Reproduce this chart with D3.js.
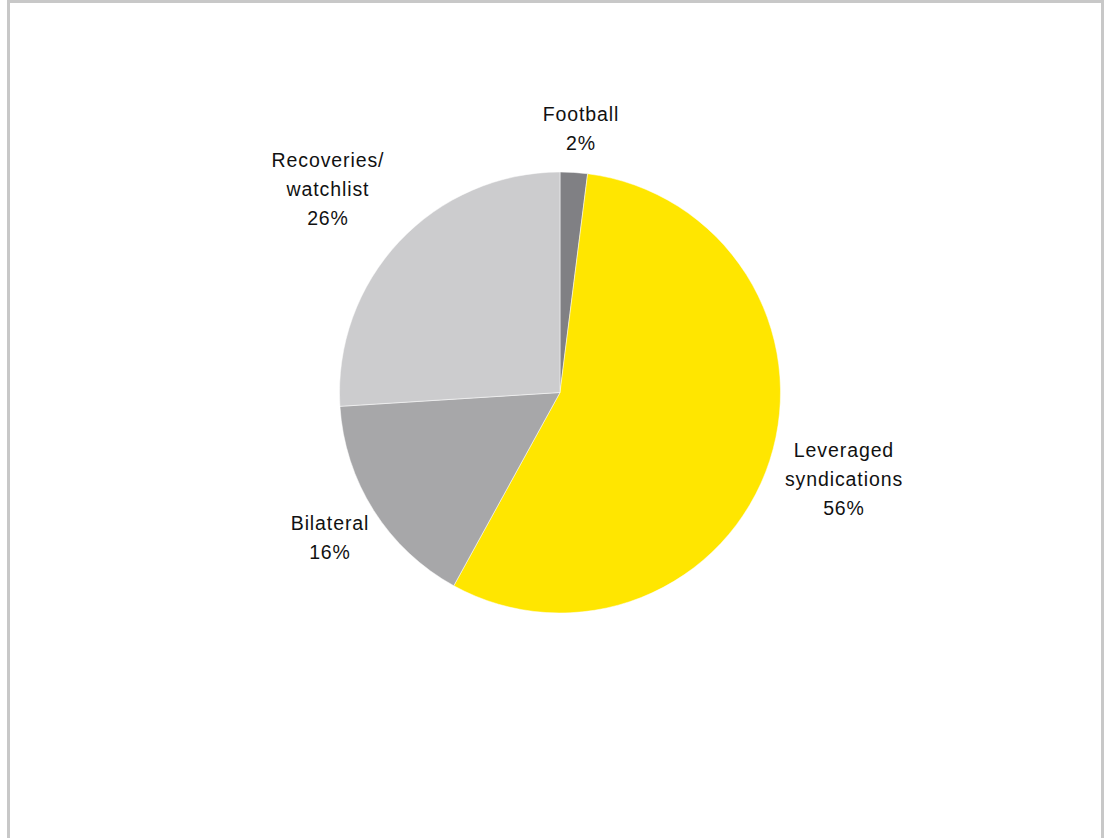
<!DOCTYPE html>
<html>
<head>
<meta charset="utf-8">
<script src="https://cdn.jsdelivr.net/npm/d3@7"></script>
<style>
html,body{margin:0;padding:0;background:#fff;}
svg{display:block;}
text{font-family:"Liberation Sans",Arial,sans-serif;font-size:19.5px;fill:#111;letter-spacing:0.9px;}
</style>
</head>
<body>
<svg id="chart" width="1107" height="838"></svg>
<script>
const categories = ["Football", "Leveraged syndications", "Bilateral", "Recoveries/watchlist"];
const values = [2, 56, 16, 26];
const labelLines = [["Football", "2%"], ["Leveraged", "syndications", "56%"], ["Bilateral", "16%"], ["Recoveries/", "watchlist", "26%"]];
const colors = ["#808084", "#FFE600", "#A7A7A9", "#CCCCCE"];
const labelAnchors = [[581, 114], [844, 450], [330, 523], [328, 160]];

const svg = d3.select("#chart");
svg.append("rect").attr("x", 8.5).attr("y", 1.5).attr("width", 1094).attr("height", 900)
  .attr("fill", "none").attr("stroke", "#c8c8c8").attr("stroke-width", 3);

const cx = 560, cy = 392.5, r = 220.5;
const pie = d3.pie().sort(null).value(d => d.v);
const arcs = pie(categories.map((c, i) => ({c, v: values[i], i})));
const arc = d3.arc().innerRadius(0).outerRadius(r);

const g = svg.append("g").attr("transform", `translate(${cx},${cy})`);
g.selectAll("path").data(arcs).join("path")
  .attr("d", arc)
  .attr("fill", d => colors[d.data.i])
  .attr("stroke", "#fff").attr("stroke-width", 0.5);

const lg = svg.append("g");
arcs.forEach(d => {
  const i = d.data.i;
  const [lx, ly] = labelAnchors[i];
  const t = lg.append("text").attr("text-anchor", "middle").attr("x", lx).attr("y", ly);
  labelLines[i].forEach((line, k) => {
    t.append("tspan").attr("x", lx).attr("y", ly + k * 29.3).attr("dy", "0.35em").text(line);
  });
});
</script>
</body>
</html>
